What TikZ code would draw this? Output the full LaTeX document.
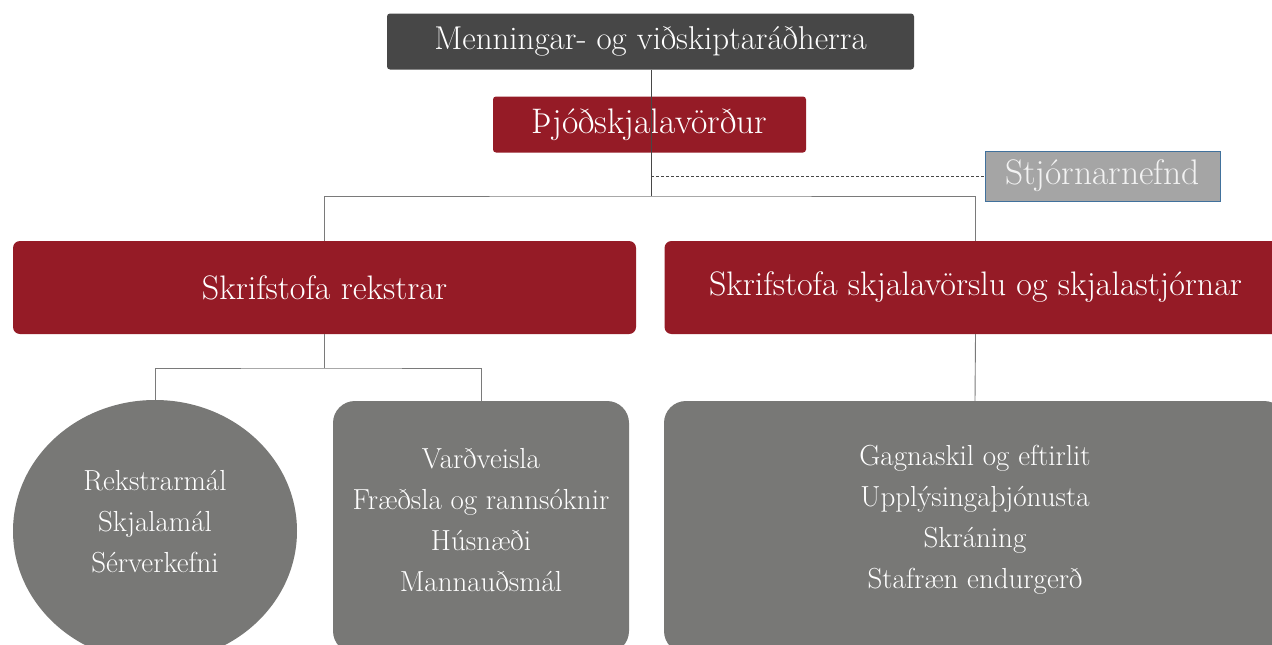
\documentclass[tikz,border=0pt]{standalone}
\usepackage{fontspec}
\usetikzlibrary{shapes.geometric}
\definecolor{darkbox}{HTML}{474747}
\definecolor{redbox}{HTML}{951B26}
\definecolor{graybox}{HTML}{787876}
\definecolor{lightbox}{HTML}{A5A5A5}
\definecolor{bluebord}{HTML}{41719C}
\definecolor{linecol}{HTML}{7A7A7A}
\tikzset{
  boxbase/.style={rectangle, inner sep=0pt, text=white, align=center},
  topbox/.style={boxbase, fill=darkbox, rounded corners=3pt, font=\fontsize{33}{38}\selectfont},
  redsmall/.style={boxbase, fill=redbox, rounded corners=3pt, font=\fontsize{35.5}{40}\selectfont},
  redbig/.style={boxbase, fill=redbox, rounded corners=7pt, font=\fontsize{34}{40}\selectfont},
  boardbox/.style={boxbase, fill=lightbox, draw=bluebord, line width=0.8pt, text=white!95!black, font=\fontsize{35.5}{40}\selectfont},
  unitbox/.style={rectangle, fill=graybox, rounded corners=22pt, inner sep=0pt},
  unitcirc/.style={ellipse, fill=graybox, inner sep=0pt},
  listtxt/.style={align=center, text=white, inner sep=0pt, font=\fontsize{29}{41}\selectfont},
  link/.style={draw=linecol, line width=0.9pt},
  darklink/.style={draw=darkbox, line width=0.9pt},
  dashlink/.style={draw=darkbox, line width=0.7pt, dashed, dash pattern=on 3pt off 2pt},
}
\begin{document}
\begin{tikzpicture}[x=1pt,y=-1pt]
\clip (0,0) rectangle (1272,645);
\fill[white] (0,0) rectangle (1272,645);

% nodes
\node[topbox, minimum width=527pt, minimum height=56pt] (top) at (650.5,41.5) {Menningar- og viðskiptaráðherra};
\node[redsmall, minimum width=313pt, minimum height=56pt] (thj) at (649.5,124.5) {Þjóðskjalavörður};
\node[boardbox, minimum width=235pt, minimum height=50pt] (stj) at (1102.5,176) {Stjórnarnefnd};
\node[redbig, minimum width=623pt, minimum height=93pt] (sr) at (324.5,287.5) {Skrifstofa rekstrar};
\node[redbig, minimum width=622pt, minimum height=93pt] (ss) at (975.5,287.5) {Skrifstofa skjalavörslu og skjalastjórnar};

\node[unitcirc, minimum width=284pt, minimum height=262pt] (circ) at (155,531) {};
\node[listtxt] (circtxt) at (155,522) {Rekstrarmál\\Skjalamál\\Sérverkefni};

\node[unitbox, minimum width=296pt, minimum height=252pt] (mid) at (481,527) {};
\node[listtxt] (midtxt) at (481,520) {Varðveisla\\Fræðsla og rannsóknir\\Húsnæði\\Mannauðsmál};

\node[unitbox, minimum width=622pt, minimum height=252pt] (rb) at (975,527) {};
\node[listtxt] (rbtxt) at (975,520) {Gagnaskil og eftirlit\\Upplýsingaþjónusta\\Skráning\\Stafræn endurgerð};

% junctions
\coordinate (j1) at (651,196);
\coordinate (d1) at (651,176);
\coordinate (j2) at (324.5,368);

% connectors
\draw[darklink] (top.south -| j1) -- (thj.south -| j1);
\draw[darklink] (thj.south -| j1) -- (j1);
\draw[dashlink] (d1) -- (stj.west);
\draw[link] (sr.north) |- (j1) -| (ss.north);
\draw[link] (sr.south) -- (j2);
\draw[link] (circ.north) |- (j2) -| (mid.north);
\draw[link] (ss.south) -- (rb.north);
\end{tikzpicture}
\end{document}
